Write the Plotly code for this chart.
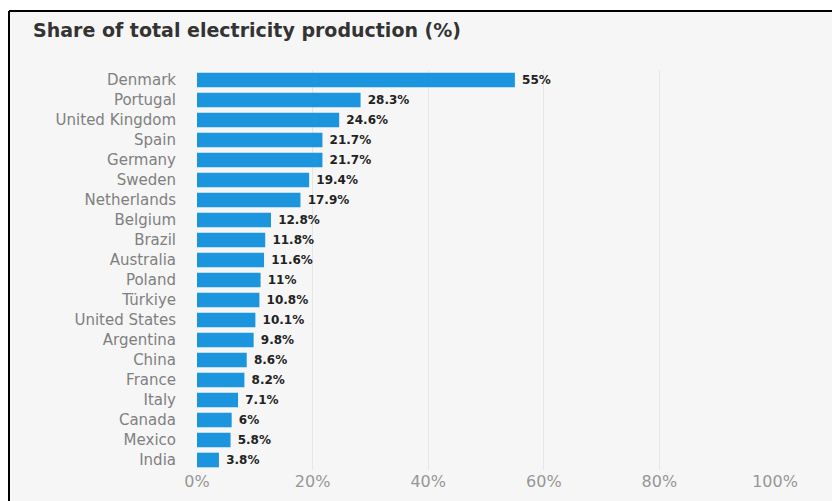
import plotly.graph_objects as go

countries = ["Denmark", "Portugal", "United Kingdom", "Spain", "Germany", "Sweden",
             "Netherlands", "Belgium", "Brazil", "Australia", "Poland", "Türkiye",
             "United States", "Argentina", "China", "France", "Italy", "Canada",
             "Mexico", "India"]
shares = [55, 28.3, 24.6, 21.7, 21.7, 19.4, 17.9, 12.8, 11.8, 11.6, 11, 10.8,
          10.1, 9.8, 8.6, 8.2, 7.1, 6, 5.8, 3.8]
tick_vals = [0, 20, 40, 60, 80, 100]
tick_text = ["0%", "20%", "40%", "60%", "80%", "100%"]

labels = ["\u00a0" + (f"{v:g}%") for v in shares]

# plot area in figure coords: x 189..767, y 62..462 (page has 8px body margin)
ML, MR, MT, MB = 189, 73, 62, 39
PW = 840 - ML - MR
PH = 501 - MT - MB
fx = lambda px: (px - ML) / PW
fy = lambda py: 1 - (py - MT) / PH

fig = go.Figure(go.Bar(
    x=shares, y=countries, orientation="h",
    marker=dict(color="#1b95de", line=dict(width=0)),
    text=labels, textposition="outside", cliponaxis=False,
    textfont=dict(family="DejaVu Sans", size=12, color="#222222", weight="bold"),
    width=0.73,
))

fig.update_layout(
    width=840, height=501,
    paper_bgcolor="white", plot_bgcolor="rgba(0,0,0,0)",
    margin=dict(l=ML, r=MR, t=MT, b=MB),
    showlegend=False,
    title=dict(text="Share of total electricity production (%)",
               x=25/840, xanchor="left", y=1-22/501, yanchor="middle",
               font=dict(family="DejaVu Sans", size=19, color="#333333", weight="bold")),
    shapes=[
        dict(type="rect", xref="paper", yref="paper", layer="below",
             x0=fx(1), x1=fx(860), y0=fy(520), y1=fy(3),
             fillcolor="#f6f6f6", line=dict(width=0)),
        dict(type="line", xref="paper", yref="paper", layer="above",
             x0=fx(1), x1=fx(1), y0=fy(520), y1=fy(3),
             line=dict(color="black", width=2)),
        dict(type="line", xref="paper", yref="paper", layer="above",
             x0=fx(1), x1=fx(860), y0=fy(3), y1=fy(3),
             line=dict(color="black", width=2)),
    ],
)
fig.update_xaxes(range=[0, 100], tickvals=tick_vals, ticktext=tick_text,
                 showgrid=True, gridcolor="#e6e6e6", gridwidth=1,
                 zeroline=False, showline=False, ticks="",
                 tickfont=dict(family="DejaVu Sans", size=16, color="#969696"))
fig.update_yaxes(autorange="reversed", showgrid=False, showline=False, ticks="",
                 ticklabelstandoff=20,
                 tickfont=dict(family="DejaVu Sans", size=15, color="#808080"))

fig.write_html("out.html")
